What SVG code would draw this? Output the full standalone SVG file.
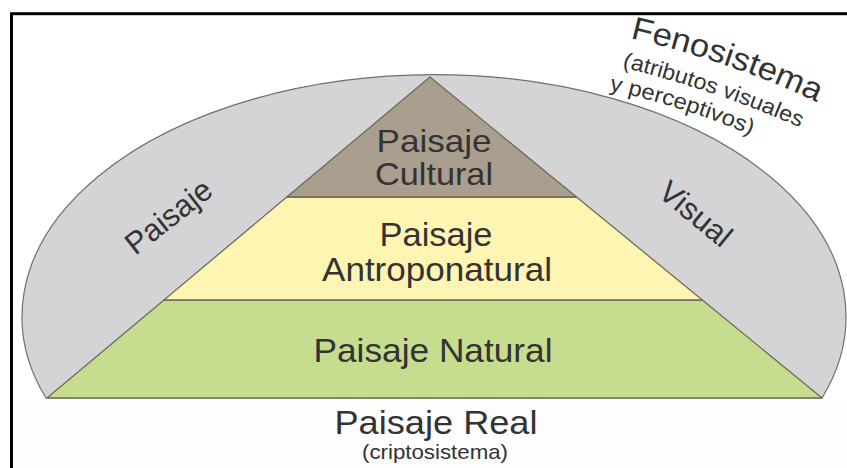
<svg xmlns="http://www.w3.org/2000/svg" width="847" height="468" viewBox="0 0 847 468">
  <defs>
    <style>
      .lbl { font-family: "Liberation Sans", Arial, sans-serif; fill: #333333; text-anchor: middle; }
      .lbl-path { font-family: "Liberation Sans", Arial, sans-serif; fill: #333333; }
      .layer { stroke: #6e6c55; stroke-width: 1.3; stroke-linejoin: round; }
    </style>
    <path id="arcFeno" d="M630,38 Q733,62 821,104"/>
    <path id="arcAtrib" d="M622,67 Q721,92 803,129"/>
    <path id="arcPerc" d="M609,90 Q686,107 753,136"/>
  </defs>

  <rect x="0" y="0" width="847" height="468" fill="#ffffff"/>
  <rect x="22" y="400" width="830" height="70" fill="#fdfdfd"/>

  <g id="dome">
    <path d="M46,398 A412,242 0 1 1 822,398 Z" fill="#d4d4d7" stroke="#6f6f6f" stroke-width="1.2"/>
    <text class="lbl" font-size="31" x="175" y="225" transform="rotate(-38 175 225)" textLength="101" lengthAdjust="spacingAndGlyphs">Paisaje</text>
    <text class="lbl" font-size="31" x="689" y="222" transform="rotate(39.5 689 222)" textLength="84" lengthAdjust="spacingAndGlyphs">Visual</text>
  </g>

  <g id="fenosistema">
    <text class="lbl-path" font-size="32"><textPath href="#arcFeno" textLength="198" lengthAdjust="spacingAndGlyphs">Fenosistema</textPath></text>
    <text class="lbl-path" font-size="22"><textPath href="#arcAtrib" textLength="188" lengthAdjust="spacingAndGlyphs">(atributos visuales</textPath></text>
    <text class="lbl-path" font-size="22"><textPath href="#arcPerc" textLength="149" lengthAdjust="spacingAndGlyphs">y perceptivos)</textPath></text>
  </g>

  <g id="natural">
    <polygon class="layer" points="164,300 702.3,300 822,398 47,398" fill="#c6dd8f"/>
    <text class="lbl" font-size="33" x="433" y="362" textLength="239" lengthAdjust="spacingAndGlyphs">Paisaje Natural</text>
  </g>

  <g id="antroponatural">
    <polygon class="layer" points="286.8,197 576.5,197 702.3,300 164,300" fill="#fff5b3"/>
    <text class="lbl" font-size="33" x="436" y="246" textLength="113" lengthAdjust="spacingAndGlyphs">Paisaje</text>
    <text class="lbl" font-size="33" x="437" y="281" textLength="230" lengthAdjust="spacingAndGlyphs">Antroponatural</text>
  </g>

  <g id="cultural">
    <polygon class="layer" points="430,77 576.5,197 286.8,197" fill="#aa9e8f"/>
    <text class="lbl" font-size="32" x="434" y="152" textLength="115" lengthAdjust="spacingAndGlyphs">Paisaje</text>
    <text class="lbl" font-size="32" x="434" y="185" textLength="118" lengthAdjust="spacingAndGlyphs">Cultural</text>
  </g>

  <g id="real">
    <text class="lbl" font-size="33" x="436" y="434" textLength="203" lengthAdjust="spacingAndGlyphs">Paisaje Real</text>
    <text class="lbl" font-size="21" x="435" y="459" textLength="146" lengthAdjust="spacingAndGlyphs">(criptosistema)</text>
  </g>

  <g id="connectors"></g>

  <rect x="11.5" y="13.7" width="850" height="470" fill="none" stroke="#000000" stroke-width="3"/>
</svg>
